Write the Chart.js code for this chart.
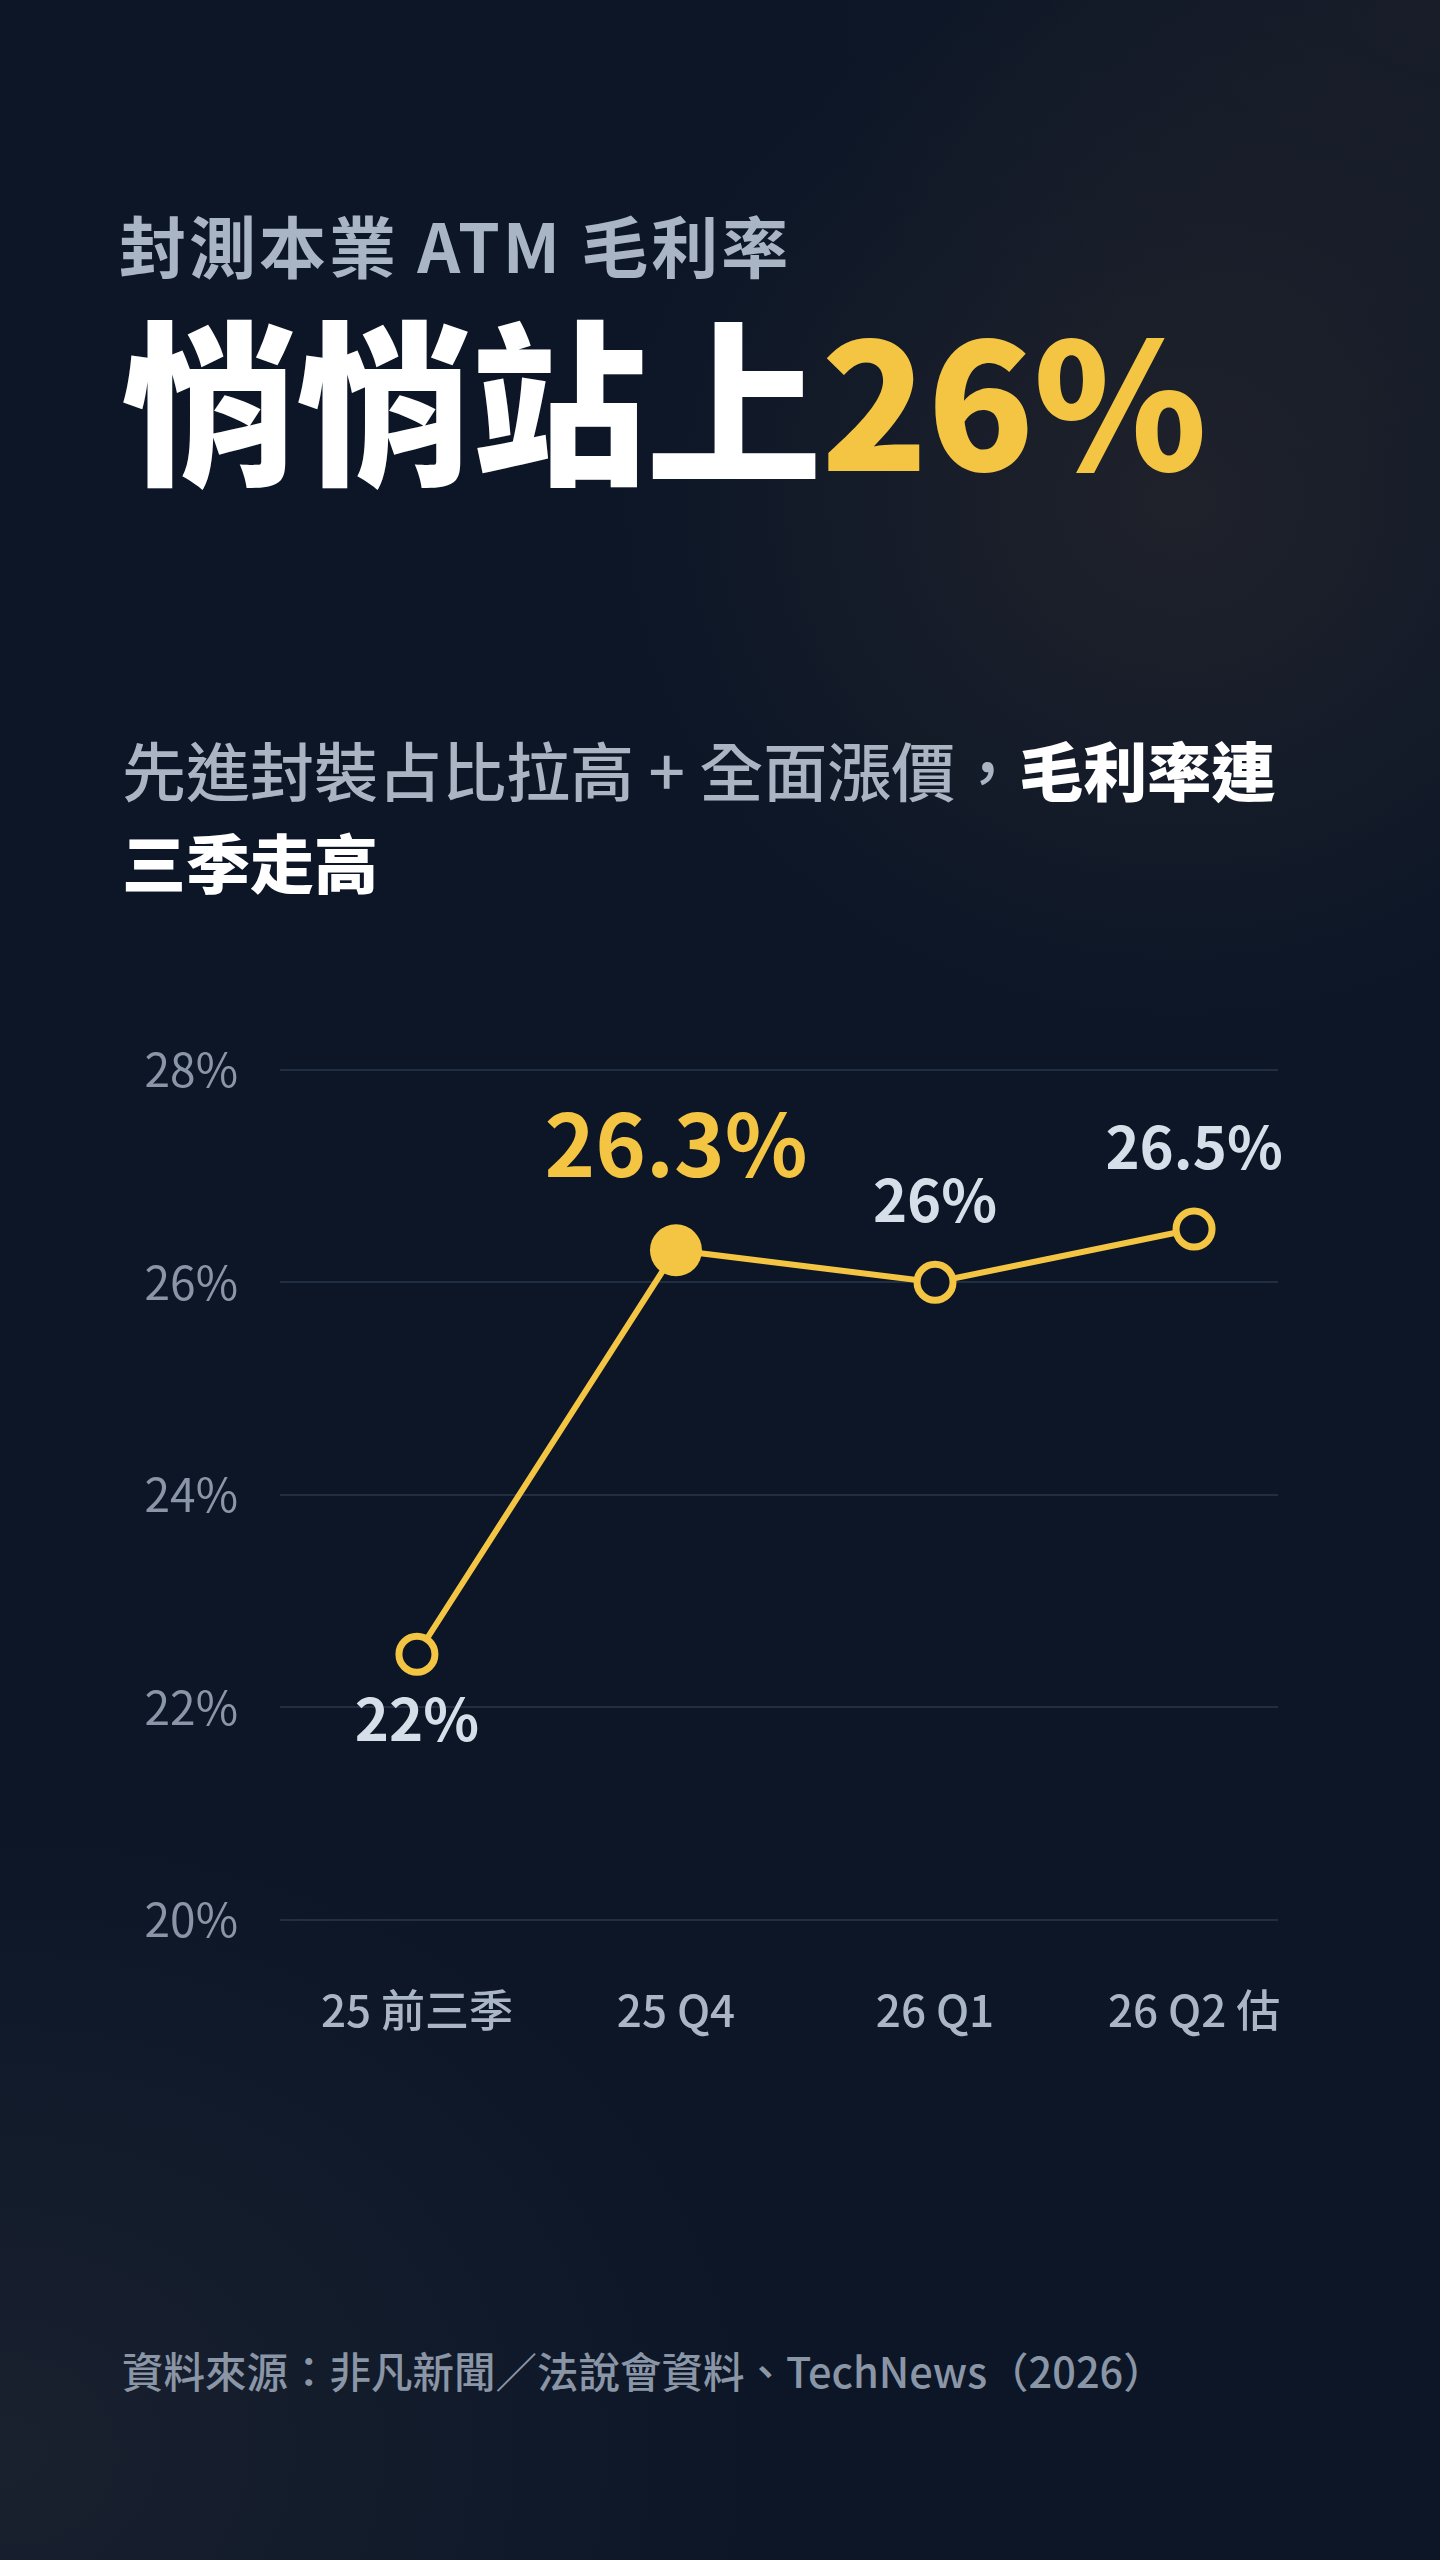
<!DOCTYPE html>
<html lang="zh-Hant">
<head>
<meta charset="utf-8">
<script src="https://cdn.jsdelivr.net/npm/chart.js@4"></script>
<style>
  html, body { margin: 0; padding: 0; }
  body {
    width: 1440px; height: 2560px; position: relative; overflow: hidden;
    font-family: "Noto Sans CJK TC", "Noto Sans", sans-serif;
    background:
      radial-gradient(ellipse 820px 760px at 1180px 500px, rgba(38,38,44,0.75) 0%, rgba(38,38,44,0) 70%),
      radial-gradient(ellipse 1100px 900px at 0px 2450px, rgba(34,40,52,0.6) 0%, rgba(34,40,52,0) 70%),
      radial-gradient(ellipse 900px 700px at 1440px 0px, rgba(36,36,42,0.5) 0%, rgba(36,36,42,0) 70%),
      #0c1627;
  }
  .t { position: absolute; left: 0; white-space: nowrap; line-height: 1; }
  #kicker { left: 119px; top: 210px; font-size: 67px; font-weight: 700; color: #a9b4c4; letter-spacing: 3px; }
  #headline { left: 121px; top: 307px; font-size: 176px; font-weight: 900; color: #ffffff; letter-spacing: -1px; }
  #headline .y { color: #f4c542; }
  #sub { left: 122px; top: 722px; font-size: 64px; font-weight: 500; color: #aab4c3; line-height: 92px; }
  #sub b { color: #ffffff; font-weight: 900; }
  #source { left: 122px; top: 2350px; font-size: 41.5px; font-weight: 500; color: #8a95a6; }
  #chartWrap { position: absolute; left: 0; top: 1000px; width: 1440px; height: 1100px; }
</style>
</head>
<body>
<div class="t" id="kicker">封測本業 ATM 毛利率</div>
<div class="t" id="headline">悄悄站上<span class="y">26%</span></div>
<div class="t" id="sub">先進封裝占比拉高 + 全面漲價，<b>毛利率連</b><br><b>三季走高</b></div>
<div id="chartWrap"><canvas id="c" width="1440" height="1100"></canvas></div>
<div class="t" id="source">資料來源：非凡新聞／法說會資料、TechNews（2026）</div>

<script>
// ---- data ----
const categories = ["25 前三季", "25 Q4", "26 Q1", "26 Q2 估"];
const marginValues = [22.5, 26.3, 26.0, 26.5];
const valueLabels = ["22%", "26.3%", "26%", "26.5%"];
const yTicks = [20, 22, 24, 26, 28];

// ---- styles ----
const YELLOW = "#f4c542";
const FONT = '"Noto Sans CJK TC", "Noto Sans", sans-serif';
const labelStyle = [
  { size: 58, color: "#d6dee9", dy: 87 },
  { size: 86, color: YELLOW, dy: -73 },
  { size: 58, color: "#d6dee9", dy: -60 },
  { size: 58, color: "#d6dee9", dy: -60 }
];
const pointRadius = [18, 26, 18, 18];
const pointFill = ["#0d1626", YELLOW, "#0d1626", "#0d1626"];
const pointBorder = [7, 0, 7, 7];

const valueLabelPlugin = {
  id: "valueLabels",
  afterDatasetsDraw(chart) {
    const ctx = chart.ctx;
    const meta = chart.getDatasetMeta(0);
    ctx.save();
    ctx.textAlign = "center";
    ctx.textBaseline = "alphabetic";
    meta.data.forEach((pt, i) => {
      const s = labelStyle[i];
      ctx.font = `700 ${s.size}px ${FONT}`;
      ctx.fillStyle = s.color;
      ctx.fillText(valueLabels[i], pt.x, pt.y + s.dy);
    });
    ctx.restore();
  }
};

new Chart(document.getElementById("c"), {
  type: "line",
  data: {
    datasets: [{
      data: marginValues.map((v, i) => ({ x: i, y: v })),
      borderColor: YELLOW,
      borderWidth: 6,
      tension: 0,
      pointRadius: pointRadius,
      pointBackgroundColor: pointFill,
      pointBorderColor: YELLOW,
      pointBorderWidth: pointBorder,
      pointHoverRadius: pointRadius
    }]
  },
  options: {
    responsive: false,
    animation: false,
    events: [],
    layout: { padding: { left: 0, top: 67, right: 162, bottom: 0 } },
    plugins: { legend: { display: false }, tooltip: { enabled: false } },
    scales: {
      x: {
        type: "linear",
        min: -0.5286,
        max: 3.324,
        afterBuildTicks(scale) { scale.ticks = categories.map((_, i) => ({ value: i })); },
        afterFit(scale) { scale.height = 180; },
        grid: { display: false, drawTicks: false },
        border: { display: false },
        ticks: {
          autoSkip: false,
          maxRotation: 0,
          padding: 64,
          color: "#aab5c5",
          font: { family: FONT, size: 44, weight: "500" },
          callback: (v) => categories[v]
        }
      },
      y: {
        min: 20,
        max: 28,
        afterBuildTicks(scale) { scale.ticks = yTicks.map(v => ({ value: v })); },
        afterFit(scale) { scale.width = 280; },
        grid: { color: "rgba(120,138,165,0.20)", lineWidth: 2, drawTicks: false },
        border: { display: false },
        ticks: {
          padding: 42,
          color: "#8a96a8",
          font: { family: FONT, size: 46, weight: "400" },
          callback: (v) => v + "%"
        }
      }
    }
  },
  plugins: [valueLabelPlugin]
});
</script>
</body>
</html>
